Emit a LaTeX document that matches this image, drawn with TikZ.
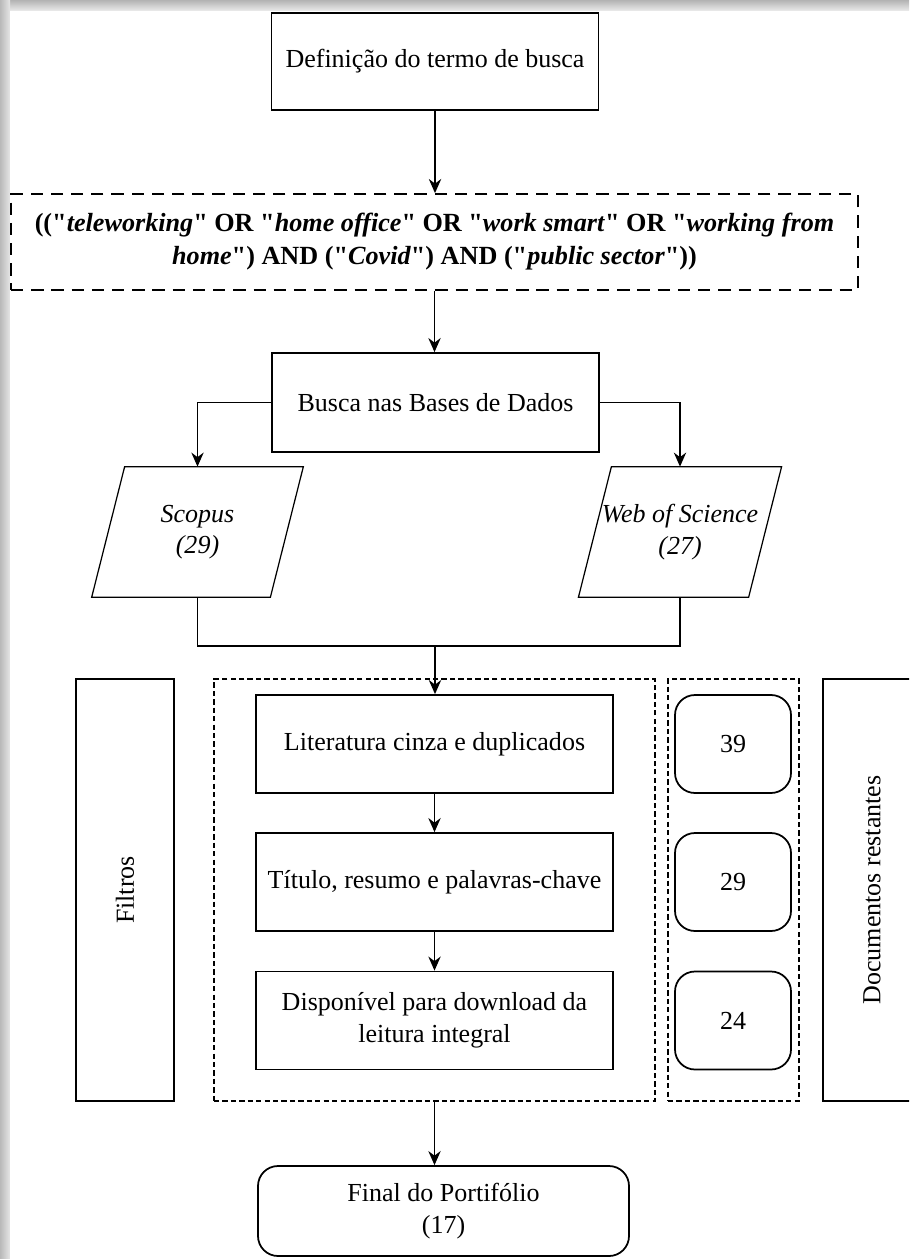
\documentclass[tikz,border=0pt]{standalone}
\usepackage{fontspec}
\setmainfont{Liberation Serif}[Ligatures=TeXOff]
\usetikzlibrary{arrows.meta}

\tikzset{
  every node/.style={font=\fontsize{14.8pt}{18pt}\selectfont},
  arr/.style={-{Stealth[length=8pt,width=7pt]},line width=1pt},
  conn/.style={line width=0.8pt},
  box/.style={draw,line width=1pt,align=center,inner sep=2pt},
  rbox/.style={box,rounded corners=0.4cm},
  qbox/.style={draw,line width=1pt,dash pattern=on 7pt off 4.5pt,align=center},
  grpbox/.style={draw,line width=1.1pt,dash pattern=on 3pt off 1.8pt},
  pgram/.style={line width=0.7pt}
}

\begin{document}
\begin{tikzpicture}
	\useasboundingbox (0,0) rectangle (18.18,-25.18);
	\clip (0,0) rectangle (18.18,-25.18);

	% Frame
	\fill[gray!45] (0,0) rectangle (18.18,-25.18);
	\shade[top color=gray!60,bottom color=gray!15] (0,0) rectangle (18.18,-0.22);
	\shade[left color=gray!55,right color=gray!20] (0,0) rectangle (0.2,-25.18);
	\fill[white] (0.2,-0.22) rectangle (18.18,-25.18);

	% Search term
	\node[box,minimum width=6.54cm,minimum height=1.94cm] (def) at (8.70,-1.23) {Definição do termo de busca};
	\node[qbox,minimum width=16.94cm,minimum height=1.92cm,font=\fontsize{14.9pt}{18.8pt}\selectfont] (query) at (8.69,-4.84)
		{\bfseries (("\textit{teleworking}" OR "\textit{home office}" OR "\textit{work smart}" OR "\textit{working from}\\
		\bfseries \textit{home}") AND ("\textit{Covid}") AND ("\textit{public sector}"))};
	\node[box,minimum width=6.54cm,minimum height=1.98cm] (busca) at (8.71,-8.05) {Busca nas Bases de Dados};

	% Databases
	\node[align=center,minimum width=4.22cm,minimum height=2.6cm] (scopus) at (3.95,-10.64) {\textit{Scopus}\\ \textit{(29)}};
	\node[align=center,minimum width=4.05cm,minimum height=2.6cm] (wos) at (13.60,-10.64) {\textit{Web of Science}\\ \textit{(27)}};
	\draw[pgram] ([xshift=0.66cm]scopus.north west) -- (scopus.north east) -- ([xshift=-0.66cm]scopus.south east) -- (scopus.south west) -- cycle;
	\draw[pgram] ([xshift=0.66cm]wos.north west) -- (wos.north east) -- ([xshift=-0.66cm]wos.south east) -- (wos.south west) -- cycle;
	\coordinate (join) at (8.70,-12.92);

	% Filters
	\node[box,rotate=90,minimum width=8.44cm,minimum height=1.96cm] (filtros) at (2.50,-17.80) {Filtros};
	\node[grpbox,minimum width=8.82cm,minimum height=8.44cm] (grp) at (8.69,-17.80) {};
	\node[grpbox,line width=0.7pt,minimum width=2.62cm,minimum height=8.44cm] (grpnum) at (14.67,-17.80) {};
	\node[box,rotate=90,minimum width=8.44cm,minimum height=1.96cm] (docs) at (17.44,-17.80) {Documentos restantes};

	\node[box,minimum width=7.14cm,minimum height=1.96cm] (lit) at (8.69,-14.88) {Literatura cinza e duplicados};
	\node[box,minimum width=7.14cm,minimum height=1.96cm] (tit) at (8.69,-17.64) {Título, resumo e palavras-chave};
	\node[box,minimum width=7.14cm,minimum height=1.96cm] (disp) at (8.69,-20.41) {Disponível para download da\\ leitura integral};

	\node[rbox,minimum width=2.32cm,minimum height=1.96cm] (n39) at (14.66,-14.88) {39};
	\node[rbox,minimum width=2.32cm,minimum height=1.96cm] (n29) at (14.66,-17.64) {29};
	\node[rbox,minimum width=2.32cm,minimum height=1.96cm] (n24) at (14.66,-20.41) {24};

	% Result
	\node[rbox,minimum width=7.42cm,minimum height=1.80cm] (final) at (8.87,-24.22) {Final do Portifólio\\ (17)};

	% Connectors
	\draw[arr] (def.south) -- (def.south |- query.north);
	\draw[arr] (query.south) -- (query.south |- busca.north);
	\draw[arr,line width=0.8pt] (busca.west) -| (scopus.north);
	\draw[arr,line width=0.8pt] (busca.east) -| (wos.north);
	\draw[conn] (scopus.south) |- (join) -| (wos.south);
	\draw[arr] (join) -- (join |- lit.north);
	\draw[arr] (lit) -- (tit);
	\draw[arr] (tit) -- (disp);
	\draw[arr] (grp.south) -- (grp.south |- final.north);
\end{tikzpicture}
\end{document}
